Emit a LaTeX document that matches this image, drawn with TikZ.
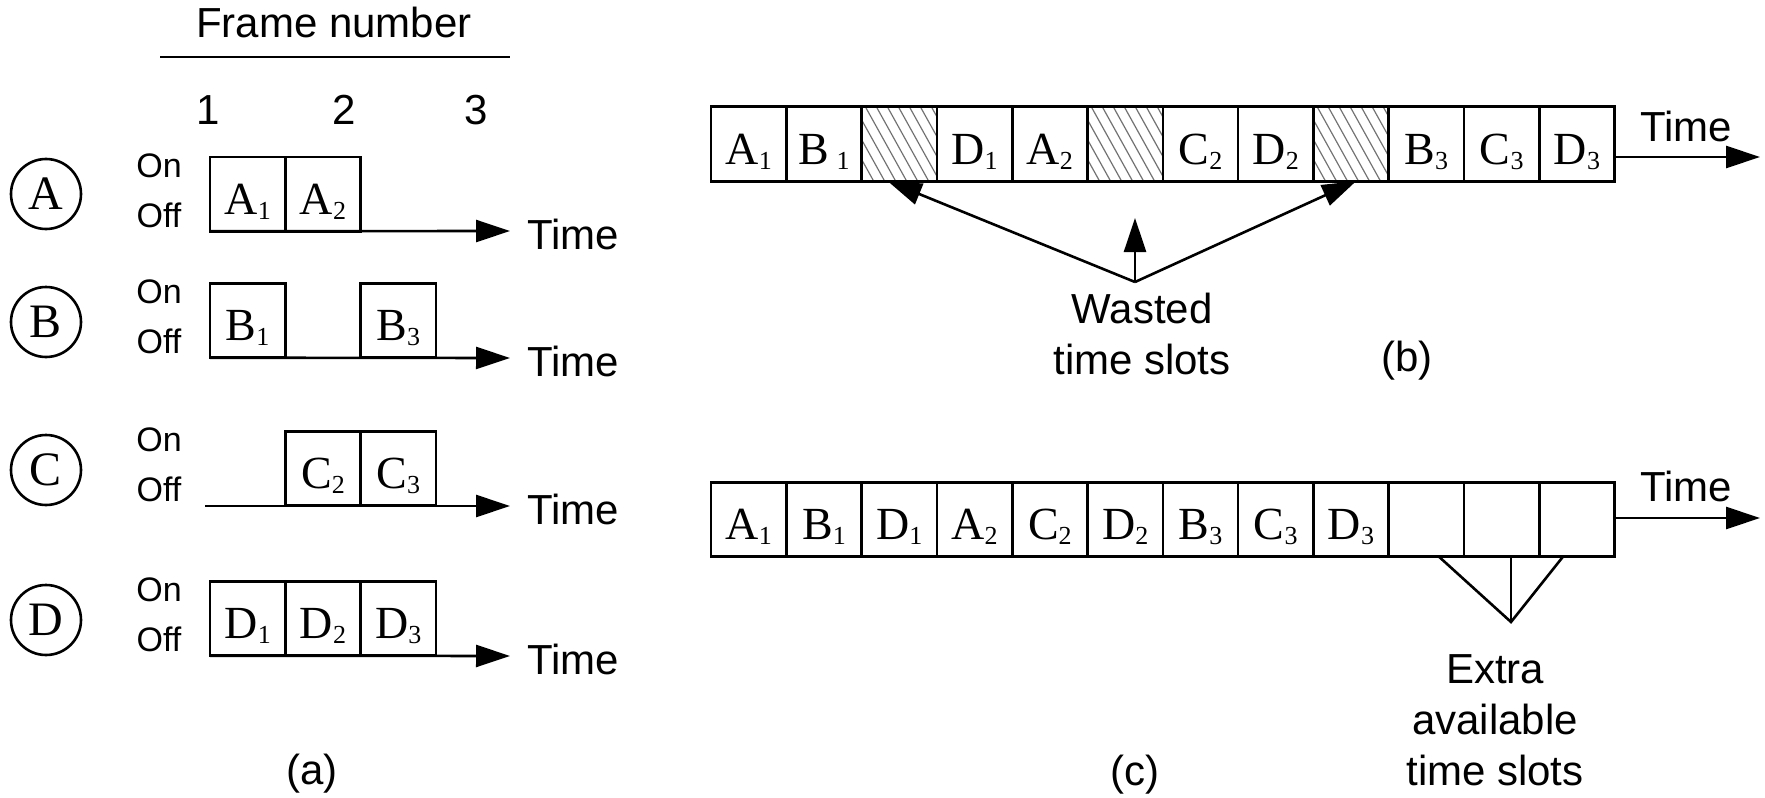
\documentclass[tikz,border=0pt]{standalone}
\usepackage{fontspec}
\setmainfont{Liberation Sans}
\newfontfamily\slotserif{Liberation Serif}
\usetikzlibrary{arrows.meta}
\newcommand\slotsub[1]{\raisebox{-2.5pt}{\fontsize{13}{13}\selectfont #1}}
\begin{document}
\begin{tikzpicture}[x=0.5pt,y=-0.5pt,line width=1.3pt,
  slot/.style={draw,line width=1.3pt,minimum width=37.65pt,minimum height=37.2pt,inner sep=0pt,outer sep=0pt},
  lbla/.style={font=\slotserif\fontsize{23}{23}\selectfont,anchor=base,inner sep=0pt},
  lblb/.style={font=\slotserif\fontsize{23}{23}\selectfont,anchor=base,inner sep=0pt},
  txt/.style={font=\fontsize{21}{25.5}\selectfont,inner sep=0pt},
  onoff/.style={font=\fontsize{17}{17}\selectfont,inner sep=0pt},
  src/.style={draw,circle,line width=1.3pt,minimum size=35pt,inner sep=0pt,font=\slotserif\fontsize{24}{24}\selectfont},
  tip/.style={-{Triangle[length=17pt,width=11pt]},line width=1.3pt},
  hatch/.style={line width=0.6pt,black!55},
]
\useasboundingbox (0,0) rectangle (1765,797);

% ---------- (a) ----------
\node[txt,anchor=base] (frm) at (334,38) {Frame number};
\draw (160,57) -- (510,57);
\node[txt,anchor=base] (n1) at (208,125) {1};
\node[txt,anchor=base] (n2) at (344,125) {2};
\node[txt,anchor=base] (n3) at (476,125) {3};

\node[src] (cA) at (46,194) {A};
\node[src] (cB) at (46,322) {B};
\node[src] (cC) at (46,470) {C};
\node[src] (cD) at (46,620) {D};

\foreach \t/\y in {A/157,B/283,C/431,D/581}{
  \node[onoff] (on\t) at (159,\y+9) {On};
  \node[onoff] (off\t) at (159,\y+58) {Off};
}

\foreach \n/\x/\y/\t in {rA1/247.65/194/A\slotsub{1}, rA2/322.95/194/A\slotsub{2},
  rB1/247.65/320.5/B\slotsub{1}, rB3/398.25/320.5/B\slotsub{3},
  rC2/322.95/468.5/C\slotsub{2}, rC3/398.25/468.5/C\slotsub{3},
  rD1/247.65/618.5/D\slotsub{1}, rD2/322.95/618.5/D\slotsub{2}, rD3/398.25/618.5/D\slotsub{3}}{
  \node[slot] (\n) at (\x,\y) {};
  \node[lbla] at ([yshift=8.5pt]\n.south) {\t};
}

\coordinate (eA) at (510,231);
\coordinate (eB) at (510,358);
\coordinate (sC) at (205,506);
\coordinate (eC) at (510,506);
\coordinate (eD) at (510,656);
\draw[tip] (rA1.south west) -- (eA);
\draw[tip] (rB1.south west) -- (eB);
\draw[tip] (sC) -- (eC);
\draw[tip] (rD1.south west) -- (eD);
\node[txt,anchor=base west] (tA) at (526,249) {Time};
\node[txt,anchor=base west] (tB) at (526,376) {Time};
\node[txt,anchor=base west] (tC) at (526,524) {Time};
\node[txt,anchor=base west] (tD) at (526,674) {Time};
\node[txt,anchor=base] (la) at (312,784) {(a)};

% ---------- (b) ----------
\foreach \i/\t in {1/A\slotsub{1},2/B\,\slotsub{1},3/,4/D\slotsub{1},5/A\slotsub{2},6/,
  7/C\slotsub{2},8/D\slotsub{2},9/,10/B\slotsub{3},11/C\slotsub{3},12/D\slotsub{3}}{
  \node[slot] (sb\i) at ({711+75.3*(\i-0.5)},144) {};
  \node[lblb] at ([yshift=8.5pt]sb\i.south) {\t};
}
\foreach \i in {3,6,9}{
  \begin{scope}
    \clip (sb\i.south west) rectangle (sb\i.north east);
    \foreach \k in {-6,...,7}
      \draw[hatch] ({711+75.3*(\i-1)+\k*11},100) -- ++(50,90);
  \end{scope}
  \draw (sb\i.south west) rectangle (sb\i.north east);
}
\coordinate (bT) at (1760,157);
\draw[tip] (sb12.east |- bT) -- (bT);
\node[txt,anchor=base] (tb) at (1686,141) {Time};

\coordinate (wap) at (1135,282);
\coordinate (wm) at (1135,218);
\draw[tip] (wap) -- ([xshift=-5.75pt]sb3.south);
\draw[tip] (wap) -- ([xshift=2.5pt]sb9.south);
\draw[tip] (wap) -- (wm);
\node[txt,align=center,anchor=north] (wst) at (1142,292) {Wasted\\time slots};
\node[txt,anchor=base] (lb) at (1407,371) {(b)};

% ---------- (c) ----------
\foreach \i/\t in {1/A\slotsub{1},2/B\slotsub{1},3/D\slotsub{1},4/A\slotsub{2},5/C\slotsub{2},6/D\slotsub{2},
  7/B\slotsub{3},8/C\slotsub{3},9/D\slotsub{3},10/,11/,12/}{
  \node[slot] (sc\i) at ({711+75.3*(\i-0.5)},519.5) {};
  \node[lblb] at ([yshift=8.5pt]sc\i.south) {\t};
}
\coordinate (cT) at (1760,518);
\draw[tip] (sc12.east |- cT) -- (cT);
\node[txt,anchor=base] (tcc) at (1686,501) {Time};

\coordinate (xap) at (1511,622);
\draw ([xshift=6.3pt]sc10.south) -- (xap) -- ([xshift=-7pt]sc12.south);
\draw (sc11.south -| xap) -- (xap);
\node[txt,align=center,anchor=north] (xtr) at (1495,653) {Extra\\available\\time slots};
\node[txt,anchor=base] (lc) at (1135,785) {(c)};
\end{tikzpicture}
\end{document}
